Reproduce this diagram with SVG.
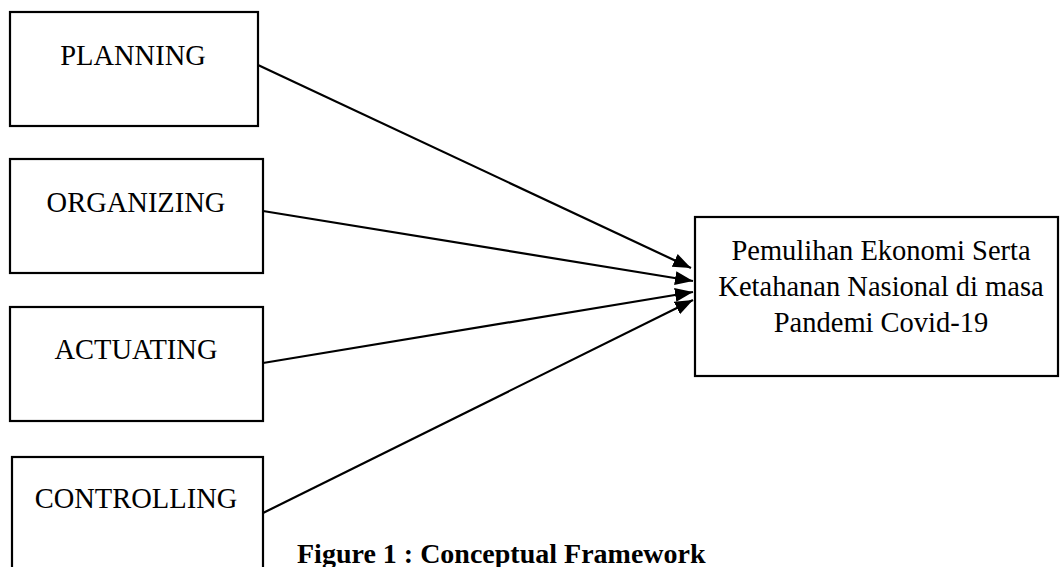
<svg xmlns="http://www.w3.org/2000/svg" width="1060" height="567" viewBox="0 0 1060 567">
<style>
.box{fill:#fff;stroke:#000;stroke-width:2.2}
.lbl{font-family:"Liberation Serif","Times New Roman",serif;font-size:28.5px;fill:#000;text-anchor:middle}
.cap{font-family:"Liberation Serif","Times New Roman",serif;font-size:28px;font-weight:bold;fill:#000}
.conn{stroke:#000;stroke-width:2.2;fill:none;marker-end:url(#ah)}
</style>
<defs>
<marker id="ah" markerUnits="userSpaceOnUse" markerWidth="20" markerHeight="16" refX="18" refY="7" orient="auto">
<path d="M0,0 L18,7 L0,14 Z" fill="#000"/>
</marker>
</defs>
<rect width="1060" height="567" fill="#fff"/>
<g id="planning"><rect class="box" x="10" y="12" width="248" height="114"/><text class="lbl" x="133" y="65">PLANNING</text></g>
<g id="organizing"><rect class="box" x="10" y="159" width="253" height="114"/><text class="lbl" x="136" y="212">ORGANIZING</text></g>
<g id="actuating"><rect class="box" x="10" y="307" width="253" height="114"/><text class="lbl" x="136" y="359">ACTUATING</text></g>
<g id="controlling"><rect class="box" x="12" y="457" width="251" height="130"/><text class="lbl" x="136" y="508">CONTROLLING</text></g>
<g id="pemulihan"><rect class="box" x="695" y="217" width="363" height="159"/>
<text class="lbl" x="881" y="260">Pemulihan Ekonomi Serta</text>
<text class="lbl" x="881" y="296">Ketahanan Nasional di masa</text>
<text class="lbl" x="881" y="332">Pandemi Covid-19</text></g>
<g id="connectors">
<line class="conn" x1="258" y1="65" x2="691" y2="268"/>
<line class="conn" x1="263" y1="211" x2="693" y2="281"/>
<line class="conn" x1="263" y1="363" x2="693" y2="292"/>
<line class="conn" x1="263" y1="513" x2="693" y2="300"/>
</g>
<text class="cap" x="297" y="563">Figure 1 : Conceptual Framework</text>
</svg>
